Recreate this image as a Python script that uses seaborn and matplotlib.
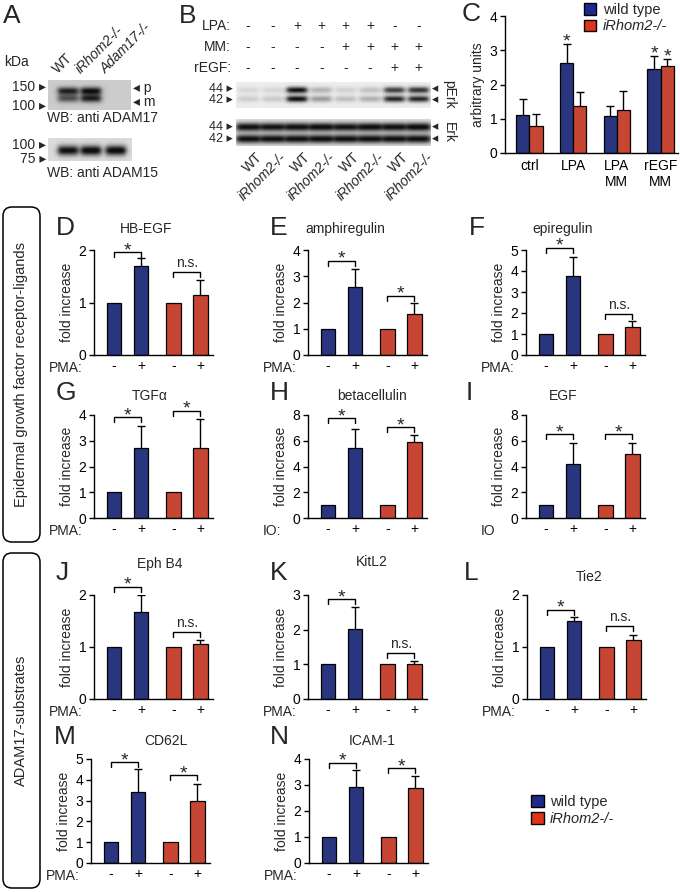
import numpy as np
import pandas as pd
import matplotlib
matplotlib.use('Agg')
import matplotlib.pyplot as plt
from matplotlib.patches import FancyBboxPatch, Patch
import seaborn as sns

sns.set_style('ticks')
plt.rcParams['font.family'] = ['Liberation Sans', 'DejaVu Sans']
plt.rcParams['font.size'] = 10
plt.rcParams['axes.edgecolor'] = 'black'
plt.rcParams['axes.linewidth'] = 1.0
plt.rcParams['xtick.color'] = 'black'
plt.rcParams['ytick.color'] = 'black'

BLUE = '#1c2a8e'
RED = '#e0341a'
PAL = {'wild type': BLUE, 'iRhom2-/-': RED}

# ---- Western blot band intensities (0 = no band, 1 = saturated) ----
a_lanes = ['WT', 'iRhom2-/-', 'Adam17-/-']
adam17_p = [0.85, 0.95, 0.0]
adam17_m = [0.60, 0.85, 0.0]
adam15 = [0.95, 1.0, 1.0]

b_lanes = ['WT', 'iRhom2-/-', 'WT', 'iRhom2-/-', 'WT', 'iRhom2-/-', 'WT', 'iRhom2-/-']
b_lpa = ['-', '-', '+', '+', '+', '+', '-', '-']
b_mm = ['-', '-', '-', '-', '+', '+', '+', '+']
b_regf = ['-', '-', '-', '-', '-', '-', '+', '+']
perk44 = [0.10, 0.10, 0.95, 0.25, 0.12, 0.18, 0.75, 0.80]
perk42 = [0.14, 0.15, 0.95, 0.35, 0.20, 0.26, 0.85, 0.85]
erk44 = [0.95, 0.93, 0.95, 0.97, 0.93, 0.97, 0.95, 0.98]
erk42 = [0.95, 0.95, 0.95, 0.96, 0.95, 0.95, 0.95, 0.95]

# ---- panel C ----
c_conditions = ['ctrl', 'LPA', 'LPA\nMM', 'rEGF\nMM']
c_wt = [1.12, 2.62, 1.07, 2.45]
c_wt_err = [0.47, 0.57, 0.29, 0.39]
c_ko = [0.80, 1.38, 1.27, 2.55]
c_ko_err = [0.33, 0.40, 0.53, 0.20]
c_stars = [(1, 0), (3, 0), (3, 1)]

# ---- fold increase panels (WT -, WT +, KO -, KO +) ----
genotype = ['wild type', 'wild type', 'iRhom2-/-', 'iRhom2-/-']
signs = ['-', '+', '-', '+']

hbegf = [1.0, 1.69, 1.0, 1.15]
hbegf_err = [0, 0.16, 0, 0.27]
amphireg = [1.0, 2.58, 1.0, 1.58]
amphireg_err = [0, 0.68, 0, 0.42]
epireg = [1.0, 3.76, 1.0, 1.35]
epireg_err = [0, 0.89, 0, 0.28]
tgfa = [1.0, 2.71, 1.0, 2.73]
tgfa_err = [0, 0.86, 0, 1.12]
btc = [1.0, 5.45, 1.0, 5.87]
btc_err = [0, 1.5, 0, 0.57]
egf = [1.0, 4.16, 1.0, 4.96]
egf_err = [0, 1.7, 0, 0.9]
ephb4 = [1.0, 1.68, 1.0, 1.05]
ephb4_err = [0, 0.32, 0, 0.08]
kitl2 = [1.0, 2.03, 1.0, 1.0]
kitl2_err = [0, 0.61, 0, 0.09]
tie2 = [1.0, 1.50, 1.0, 1.13]
tie2_err = [0, 0.07, 0, 0.10]
cd62l = [1.02, 3.39, 1.02, 2.96]
cd62l_err = [0, 1.12, 0, 0.84]
icam1 = [1.0, 2.94, 1.0, 2.90]
icam1_err = [0, 0.63, 0, 0.43]

W, H = 680, 892
fig = plt.figure(figsize=(W / 100, H / 100), dpi=100)


def px_rect(x0, y0, x1, y1):
    return [x0 / W, 1 - y1 / H, (x1 - x0) / W, (y1 - y0) / H]


# overlay in pixel coordinates for labels, blots and boxes
ov = fig.add_axes([0, 0, 1, 1])
ov.set_facecolor('none')
ov.axis('off')


def T(x, y, s, **kw):
    kw.setdefault('va', 'center')
    kw.setdefault('fontsize', 10)
    ov.text(x, y, s, **kw)


def blot(x0, x1, y0, y1, lane_x, rows, levels, half_w, sig, bg):
    xs = np.linspace(x0, x1, int((x1 - x0) * 3))
    ys = np.linspace(y0, y1, int((y1 - y0) * 3))
    X, Y = np.meshgrid(xs, ys)
    dark = np.zeros_like(X)
    for cy, lev in zip(rows, levels):
        for cx, a in zip(lane_x, lev):
            lane = 1 / (1 + np.exp((np.abs(X - cx) - half_w) / 1.5))
            dark += a * lane * np.exp(-0.5 * ((Y - cy) / sig) ** 2)
    img = bg * (1 - np.clip(dark, 0, 0.93))
    ov.imshow(img, cmap='gray', vmin=0, vmax=1, extent=(x0, x1, y1, y0),
              aspect='auto', interpolation='bilinear')


# ---------------- A ----------------
T(3, 16, 'A', fontsize=19)
T(4, 62, 'kDa')
a_x = [68, 91, 116]
for lx, lab in zip(a_x, a_lanes):
    T(lx - 8, 76, lab, rotation=45, ha='left', va='bottom', rotation_mode='anchor',
      style='normal' if lab == 'WT' else 'italic')
blot(48, 131, 80, 110, a_x, [91, 98.5], [adam17_p, adam17_m], 10, 2.8, 0.80)
blot(48, 132, 138, 161, a_x, [150.5], [adam15], 10, 3.6, 0.86)
T(46, 87, '150 ▸', ha='right')
T(46, 106, '100 ▸', ha='right')
T(133, 88, '◂ p', ha='left')
T(133, 102, '◂ m', ha='left')
T(47, 118, 'WB: anti ADAM17', ha='left')
T(46, 145, '100 ▸', ha='right')
T(46, 159, '75 ▸', ha='right')
T(47, 173, 'WB: anti ADAM15', ha='left')

# ---------------- B ----------------
T(179, 16, 'B', fontsize=19)
b_x0, b_x1 = 236, 431
lane_w = (b_x1 - b_x0) / len(b_lanes)
b_x = [b_x0 + lane_w * (i + 0.5) for i in range(len(b_lanes))]
for yy, lab, row in [(26, 'LPA:', b_lpa), (47, 'MM:', b_mm), (68, 'rEGF:', b_regf)]:
    T(231, yy, lab, ha='right')
    for lx, s in zip(b_x, row):
        T(lx, yy, s, ha='center')
blot(b_x0, b_x1, 82, 108, b_x, [90, 99], [perk44, perk42], 10, 2.3, 0.93)
blot(b_x0, b_x1, 119, 146, b_x, [127, 139], [erk44, erk42], 11.8, 3.1, 0.88)
for yy, lab in [(89.5, '44 ▸'), (100, '42 ▸'), (127, '44 ▸'), (139.5, '42 ▸')]:
    T(233, yy, lab, ha='right', fontsize=9)
    T(432, yy, '◂', ha='left', fontsize=9)
T(449, 94, 'pErk', rotation=270, ha='center')
T(449, 133, 'Erk', rotation=270, ha='center')
for lx, lab in zip(b_x, b_lanes):
    T(lx + 7, 150, lab, rotation=45, ha='right', va='top', rotation_mode='anchor',
      style='normal' if lab == 'WT' else 'italic')

# ---------------- C ----------------
T(462, 14, 'C', fontsize=19)
axc = fig.add_axes(px_rect(505, 16, 678, 153))
axc.set_facecolor('none')
dfc = pd.DataFrame({
    'condition': c_conditions * 2,
    'genotype': ['wild type'] * 4 + ['iRhom2-/-'] * 4,
    'value': c_wt + c_ko,
})
sns.barplot(data=dfc, x='condition', y='value', hue='genotype', order=c_conditions,
            hue_order=['wild type', 'iRhom2-/-'], palette=PAL, width=0.6,
            edgecolor='black', linewidth=0.9, errorbar=None, legend=False, ax=axc)
for gi, (vals, errs) in enumerate([(c_wt, c_wt_err), (c_ko, c_ko_err)]):
    xs = np.arange(4) + (gi - 0.5) * 0.3
    eb = axc.errorbar(xs, vals, yerr=[np.zeros(4), errs], fmt='none', ecolor='black',
                      elinewidth=1, capsize=3, capthick=1)
    eb[1][0].set_visible(False)
for ci, gi in c_stars:
    v = (c_wt, c_ko)[gi][ci] + (c_wt_err, c_ko_err)[gi][ci]
    axc.text(ci + (gi - 0.5) * 0.3, v + 0.06, '*', ha='center', va='center', fontsize=14)
axc.set_ylim(0, 4)
axc.set_xlim(-0.56, 3.4)
axc.set_yticks([0, 1, 2, 3, 4])
axc.set_xlabel('')
axc.set_ylabel('arbitrary units', fontsize=10, labelpad=3)
axc.tick_params(axis='y', length=3.5, width=1, labelsize=10, pad=2)
axc.tick_params(axis='x', length=0, labelsize=10, pad=4)
sns.despine(ax=axc)
handles = [Patch(facecolor=BLUE, edgecolor='black', lw=1),
           Patch(facecolor=RED, edgecolor='black', lw=1)]
leg = fig.legend(handles, ['wild type', 'iRhom2-/-'], loc='upper left',
                 bbox_to_anchor=(584 / W, 1 - 3 / H), frameon=False, fontsize=10.5,
                 handlelength=0.8, handleheight=0.8, handletextpad=0.5,
                 labelspacing=0.15, borderpad=0, borderaxespad=0)
leg.get_texts()[1].set_style('italic')

# ---------------- D - N ----------------
BAR_POS = [0, 1, 2.2, 3.2]


def bar_panel(left, top, bottom, letter, lx, title, tx, ty, means, errs, ymax, step,
              stim, brackets):
    height = bottom - top
    ax = fig.add_axes(px_rect(left, top, left + 119, bottom))
    ax.set_facecolor('none')
    df = pd.DataFrame({'pos': BAR_POS, 'value': means, 'genotype': genotype})
    sns.barplot(data=df, x='pos', y='value', hue='genotype', palette=PAL,
                native_scale=True, width=0.55, edgecolor='black', linewidth=0.9,
                errorbar=None, legend=False, ax=ax)
    idx = [i for i, e in enumerate(errs) if e > 0]
    eb = ax.errorbar([BAR_POS[i] for i in idx], [means[i] for i in idx],
                     yerr=[np.zeros(len(idx)), [errs[i] for i in idx]], fmt='none',
                     ecolor='black', elinewidth=1, capsize=3, capthick=1)
    eb[1][0].set_visible(False)
    per = ymax / height
    for i, j, h, lab in brackets:
        ax.plot([BAR_POS[i], BAR_POS[i], BAR_POS[j], BAR_POS[j]],
                [h - 5 * per, h, h, h - 5 * per], color='black', lw=1, clip_on=False)
        xm = (BAR_POS[i] + BAR_POS[j]) / 2
        if lab == '*':
            ax.text(xm, h + 1.5 * per, '*', ha='center', va='center', fontsize=14)
        else:
            ax.text(xm, h + 2 * per, lab, ha='center', va='bottom', fontsize=10)
    ax.set_ylim(0, ymax)
    ax.set_xlim(-0.74, 3.67)
    ax.set_yticks(np.arange(0, ymax + 0.01, step))
    ax.set_xticks(BAR_POS)
    ax.set_xticklabels(signs)
    ax.set_xlabel('')
    ax.set_ylabel('fold increase', fontsize=10, labelpad=3)
    ax.tick_params(axis='y', length=3.5, width=1, labelsize=10, pad=2)
    ax.tick_params(axis='x', length=0, labelsize=10, pad=3)
    sns.despine(ax=ax)
    T(left - 45, bottom + 13, stim, ha='left')
    T(lx, top - 22, letter, fontsize=19, ha='left')
    T(tx, ty, title, ha='center')


bar_panel(94, 250, 355, 'D', 56, 'HB-EGF', 146, 229, hbegf, hbegf_err, 2, 1, 'PMA:',
          [(0, 1, 1.96, '*'), (2, 3, 1.58, 'n.s.')])
bar_panel(308, 250, 355, 'E', 270, 'amphiregulin', 345, 229, amphireg, amphireg_err, 4, 1,
          'PMA:', [(0, 1, 3.59, '*'), (2, 3, 2.26, '*')])
bar_panel(526, 250, 355, 'F', 469, 'epiregulin', 563, 229, epireg, epireg_err, 5, 1, 'PMA:',
          [(0, 1, 5.1, '*'), (2, 3, 1.97, 'n.s.')])

bar_panel(94, 415, 518, 'G', 56, 'TGF\u03b1', 150, 396, tgfa, tgfa_err, 4, 1, 'PMA:',
          [(0, 1, 3.91, '*'), (2, 3, 4.17, '*')])
bar_panel(308, 415, 518, 'H', 270, 'betacellulin', 372, 396, btc, btc_err, 8, 2, 'IO:',
          [(0, 1, 7.74, '*'), (2, 3, 7.04, '*')])
bar_panel(526, 415, 518, 'I', 466, 'EGF', 563, 396, egf, egf_err, 8, 2, 'IO',
          [(0, 1, 6.52, '*'), (2, 3, 6.52, '*')])

bar_panel(94, 595, 699, 'J', 56, 'Eph B4', 160, 564, ephb4, ephb4_err, 2, 1, 'PMA:',
          [(0, 1, 2.16, '*'), (2, 3, 1.29, 'n.s.')])
bar_panel(308, 595, 699, 'K', 270, 'KitL2', 372, 562, kitl2, kitl2_err, 3, 1, 'PMA:',
          [(0, 1, 2.88, '*'), (2, 3, 1.32, 'n.s.')])
bar_panel(527, 595, 699, 'L', 464, 'Tie2', 589, 577, tie2, tie2_err, 2, 1, 'PMA:',
          [(0, 1, 1.72, '*'), (2, 3, 1.41, 'n.s.')])

bar_panel(91, 759, 863, 'M', 54, 'CD62L', 166, 741, cd62l, cd62l_err, 5, 1, 'PMA:',
          [(0, 1, 4.84, '*'), (2, 3, 4.23, '*')])
bar_panel(309, 759, 863, 'N', 270, 'ICAM-1', 372, 741, icam1, icam1_err, 4, 1, 'PMA:',
          [(0, 1, 3.85, '*'), (2, 3, 3.65, '*')])

leg2 = fig.legend(handles, ['wild type', 'iRhom2-/-'], loc='upper left',
                  bbox_to_anchor=(531 / W, 1 - 795 / H), frameon=False, fontsize=10.5,
                  handlelength=0.9, handleheight=0.9, handletextpad=0.4,
                  labelspacing=0.2, borderpad=0, borderaxespad=0)
leg2.get_texts()[1].set_style('italic')

# ---------------- side boxes ----------------
for (y0, y1, lab) in [(207, 542, 'Epidermal growth factor receptor-ligands'),
                      (553, 888, 'ADAM17-substrates')]:
    ov.add_patch(FancyBboxPatch((3, y0), 37, y1 - y0,
                                boxstyle='round,pad=0,rounding_size=9',
                                fc='none', ec='black', lw=1.1))
    T(21, (y0 + y1) / 2, lab, rotation=90, ha='center', fontsize=10.5)

ov.set_xlim(0, W)
ov.set_ylim(H, 0)

fig.savefig('out.png', dpi=100)
